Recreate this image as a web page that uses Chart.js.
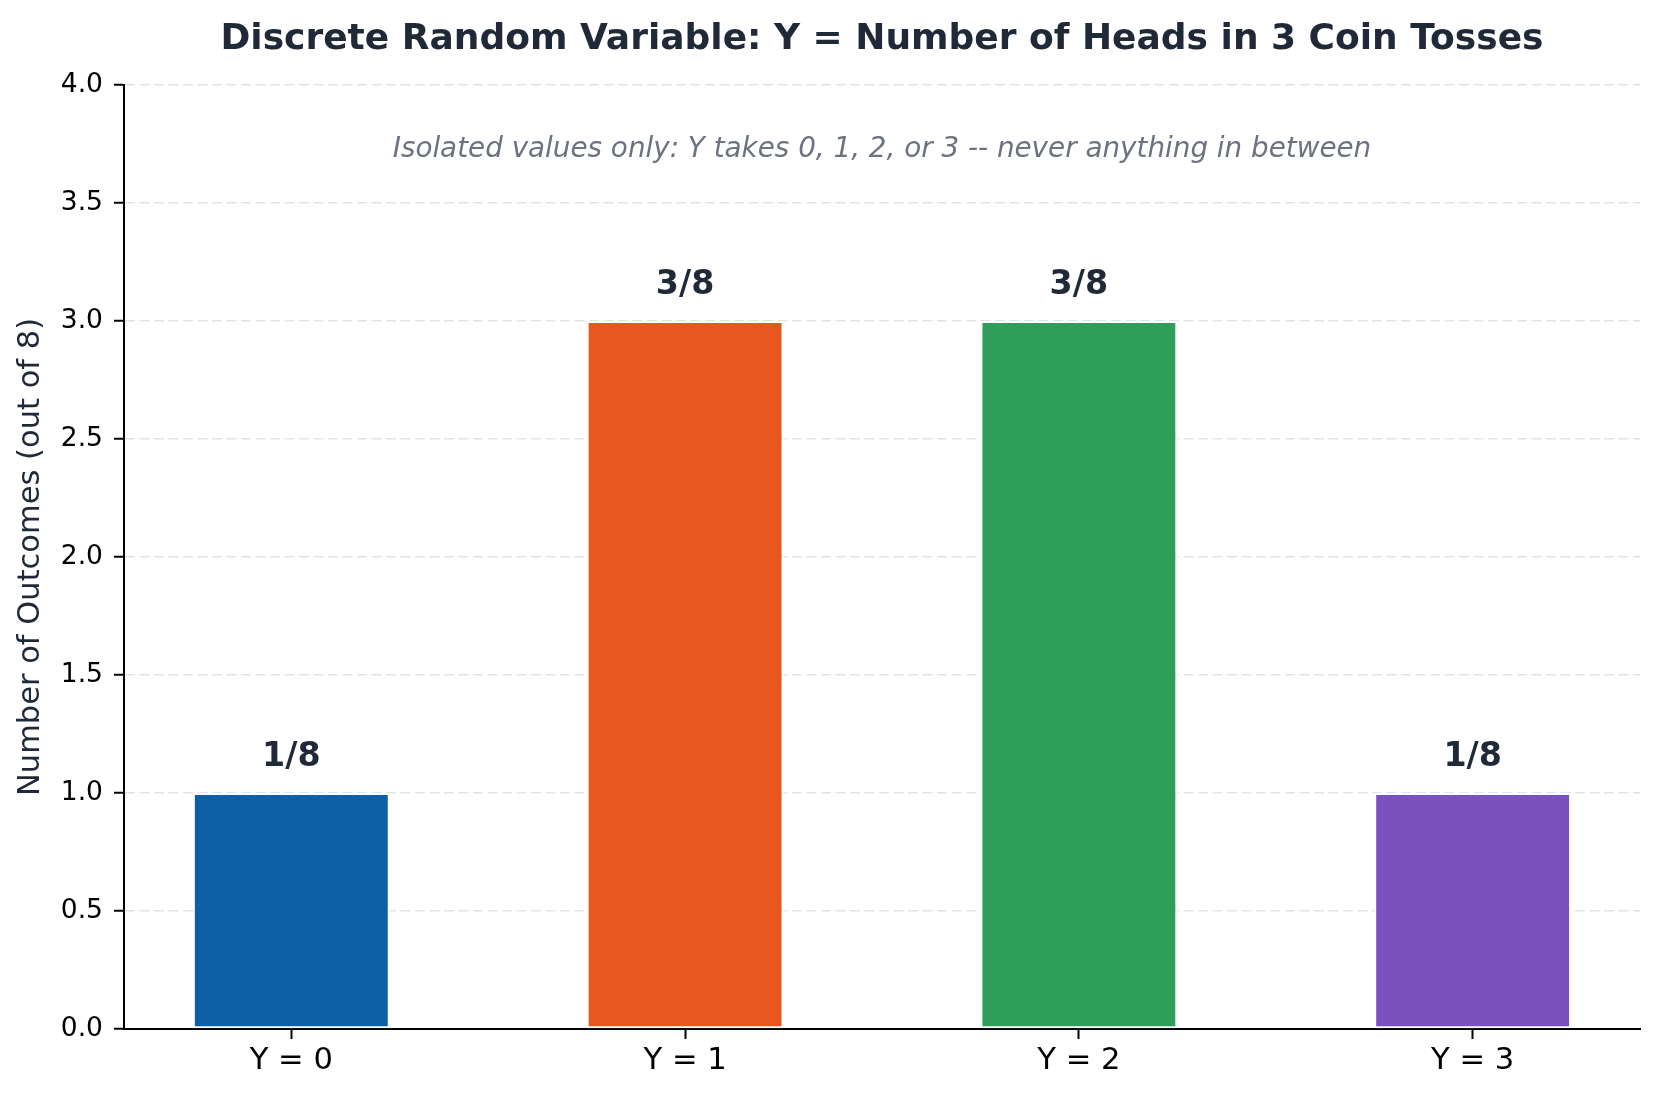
<!DOCTYPE html>
<html>
<head>
<meta charset="utf-8">
<script src="https://cdn.jsdelivr.net/npm/chart.js@4.4.0/dist/chart.umd.min.js"></script>
<style>
  html, body { margin: 0; padding: 0; background: #fff; }
  canvas { display: block; }
</style>
</head>
<body>
<canvas id="coinChart" width="1659" height="1099"></canvas>
<script>
// data
const categories = ['Y = 0', 'Y = 1', 'Y = 2', 'Y = 3'];
const headValues = [0, 1, 2, 3];
const outcomeCounts = [1, 3, 3, 1];
const fractionLabels = ['1/8', '3/8', '3/8', '1/8'];
const barColors = ['#0d5fa6', '#e85720', '#2e9e5a', '#7b51c0'];

const titleText = 'Discrete Random Variable: Y = Number of Heads in 3 Coin Tosses';
const noteText = 'Isolated values only: Y takes 0, 1, 2, or 3 -- never anything in between';
const yLabel = 'Number of Outcomes (out of 8)';

const FONT = "'DejaVu Sans', sans-serif";
const DARK = '#1f2937';

Chart.defaults.font.family = FONT;

// title, note and the fraction labels over the bars
const annotate = {
  id: 'annotate',
  afterDatasetsDraw(chart){
    const {ctx, chartArea, scales:{x, y}} = chart;
    ctx.save();
    ctx.textAlign = 'center';
    ctx.textBaseline = 'middle';

    ctx.fillStyle = DARK;
    ctx.font = `bold 36px ${FONT}`;
    ctx.fillText(titleText, (chartArea.left + chartArea.right) / 2, 40);

    ctx.fillStyle = '#6b7280';
    ctx.font = `italic 27.8px ${FONT}`;
    ctx.fillText(noteText, x.getPixelForValue(1.5), y.getPixelForValue(3.727));

    ctx.fillStyle = DARK;
    ctx.font = `bold 33.3px ${FONT}`;
    headValues.forEach((hv, i) => {
      ctx.fillText(fractionLabels[i], x.getPixelForValue(hv), y.getPixelForValue(outcomeCounts[i] + 0.152));
    });
    ctx.restore();
  }
};

new Chart(document.getElementById('coinChart'), {
  type: 'bar',
  data: {
    datasets: [{
      data: headValues.map((hv, i) => ({x: hv, y: outcomeCounts[i]})),
      backgroundColor: barColors,
      borderColor: '#ffffff',
      borderWidth: 2,
      borderSkipped: false,
      barPercentage: 0.5,
      categoryPercentage: 1.0
    }]
  },
  options: {
    responsive: false,
    animation: false,
    devicePixelRatio: 1,
    layout: { padding: { top: 85, right: 19, bottom: 16, left: 0 } },
    plugins: { legend: { display: false }, tooltip: { enabled: false }, title: { display: false } },
    scales: {
      x: {
        type: 'linear',
        min: -0.425,
        max: 3.425,
        offset: false,
        afterBuildTicks: s => { s.ticks = headValues.map(v => ({value: v})); },
        ticks: {
          color: '#000',
          font: { size: 30.6 },
          padding: 3.65,
          autoSkip: false,
          maxRotation: 0,
          callback: (v, i) => categories[i]
        },
        grid: { offset: false, drawOnChartArea: false, tickLength: 10, tickWidth: 2, tickColor: '#000', tickBorderDash: [] },
        border: { color: '#000', width: 2 }
      },
      y: {
        min: 0,
        max: 4,
        ticks: {
          stepSize: 0.5,
          color: '#000',
          font: { size: 26.5 },
          padding: 11,
          callback: v => v.toFixed(1)
        },
        grid: { color: '#e3e3e3', lineWidth: 1.5, tickLength: 10, tickWidth: 2, tickColor: '#000', tickBorderDash: [] },
        border: { color: '#000', width: 2, dash: [10, 4.5] },
        title: {
          display: true,
          text: yLabel,
          color: DARK,
          font: { size: 30.5 },
          padding: { top: 13, bottom: 0.2 }
        }
      }
    }
  },
  plugins: [annotate]
});
</script>
</body>
</html>
